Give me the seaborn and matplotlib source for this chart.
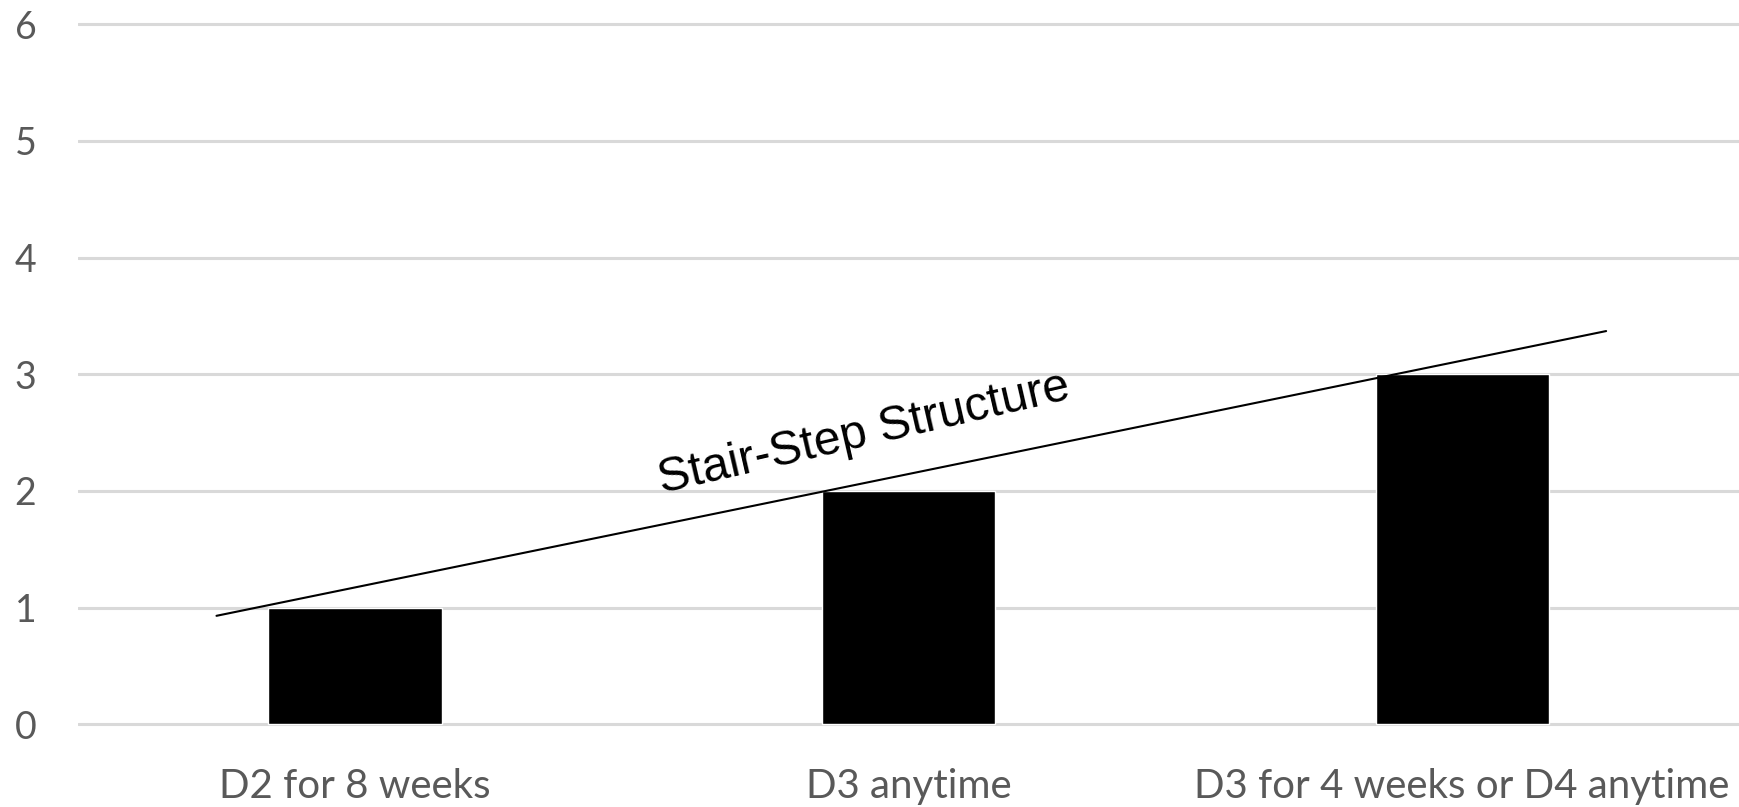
import matplotlib
matplotlib.use("Agg")
import matplotlib.pyplot as plt
import seaborn as sns

# values
categories = ["D2 for 8 weeks", "D3 anytime", "D3 for 4 weeks or D4 anytime"]
levels = [1, 2, 3]
y_ticks = [0, 1, 2, 3, 4, 5, 6]

# the hand-drawn "stair-step" trend line (data coordinates)
trend_x = [-0.25, 2.26]
trend_y = [0.93, 3.37]
trend_label = "Stair-Step Structure"


def main():
    sns.set_theme()
    sns.set_style("white")
    plt.rcParams["font.family"] = ["Lato", "DejaVu Sans"]

    fig = plt.figure(figsize=(17.39, 8.07), dpi=100)
    ax = fig.add_axes([0.0449, 0.0952, 0.9551, 0.8821])

    sns.barplot(x=categories, y=levels, color="black", saturation=1,
                width=0.313, ax=ax, zorder=3)
    ax.plot(trend_x, trend_y, color="black", linewidth=1.5, zorder=4)
    ax.text(0.92, 2.49, trend_label, rotation=13, ha="center", va="center",
            fontsize=34.5, family="Liberation Sans", color="black", zorder=5)

    ax.set_xlim(-0.5, 2.5)
    ax.set_ylim(-0.05, 6.05)
    ax.set_yticks(y_ticks)
    ax.yaxis.grid(True, color="#d9d9d9", linewidth=2.2, zorder=0)
    ax.set_axisbelow(True)
    for s in ax.spines.values():
        s.set_visible(False)

    ax.tick_params(axis="y", length=0, pad=30, labelsize=27, labelcolor="#595959")
    ax.tick_params(axis="x", length=0, pad=27, labelsize=29, labelcolor="#595959")
    for lbl in ax.get_yticklabels():
        lbl.set_horizontalalignment("right")
    ax.set_xlabel("")
    ax.set_ylabel("")

    fig.savefig("out.png", dpi=100, facecolor="white")


if __name__ == "__main__":
    main()
